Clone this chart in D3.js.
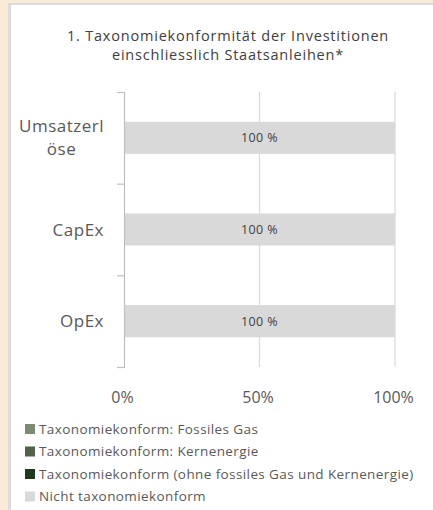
<!DOCTYPE html>
<html>
<head>
<meta charset="utf-8">
<script src="https://cdn.jsdelivr.net/npm/d3@7"></script>
<style>
  html, body { margin: 0; padding: 0; }
  body { background: #faebd7; width: 433px; height: 510px; overflow: hidden; position: relative; }
  #panel { position: absolute; left: 8px; top: 3px; width: 430px; height: 520px;
           background: #fff; border-left: 3px solid #dcdcdc; border-top: 2px solid #dcdcdc; }
  svg { position: absolute; left: 0; top: 0; font-family: "Open Sans", sans-serif; }
</style>
</head>
<body>
<div id="panel"></div>
<svg id="chart" width="433" height="510"></svg>
<script>
const categories = [['Umsatzerl', 'öse'], ['CapEx'], ['OpEx']];
const keys = ['Taxonomiekonform: Fossiles Gas', 'Taxonomiekonform: Kernenergie',
  'Taxonomiekonform (ohne fossiles Gas und Kernenergie)', 'Nicht taxonomiekonform'];
const colors = ['#7b8b6f', '#4f6349', '#1c3a1c', '#d9d9d9'];
// share per category for each key, in %
const fossilGas = [0, 0, 0];
const nuclear = [0, 0, 0];
const aligned = [0, 0, 0];
const notAligned = [100, 100, 100];
const xTicks = [0, 50, 100];
const titleLines = ['1. Taxonomiekonformität der Investitionen', 'einschliesslich Staatsanleihen*'];

const svg = d3.select('#chart');
const plotLeft = 124, plotRight = 395, plotTop = 92, plotBottom = 367;

const x = d3.scaleLinear().domain([0, 100]).range([plotLeft, plotRight]);
const y = d3.scaleBand().domain(d3.range(categories.length)).range([plotTop, plotBottom]).paddingInner(0.65).paddingOuter(0.325);
const yEdge = d3.scaleLinear().domain([0, categories.length]).range([plotTop, plotBottom]);

// title
svg.append('g').selectAll('text')
  .data(titleLines)
  .enter().append('text')
  .attr('x', 228)
  .attr('y', (d, i) => 41 + i * 19)
  .attr('text-anchor', 'middle')
  .attr('font-size', 14.5)
  .attr('letter-spacing', 0.8)
  .attr('fill', '#404040')
  .text(d => d);

// gridlines
svg.append('g')
  .selectAll('line')
  .data(xTicks.slice(1))
  .enter().append('line')
  .attr('x1', d => x(d)).attr('x2', d => x(d))
  .attr('y1', plotTop).attr('y2', plotBottom)
  .attr('stroke', '#d9d9d9').attr('stroke-width', 1.2);

// stacked bars
const rows = categories.map((c, i) => ({ i, values: [fossilGas[i], nuclear[i], aligned[i], notAligned[i]] }));
const stack = d3.stack().keys([0, 1, 2, 3]).value((d, k) => d.values[k]);
const series = stack(rows);

svg.append('g')
  .selectAll('g')
  .data(series)
  .enter().append('g')
  .attr('fill', (d, k) => colors[k])
  .selectAll('rect')
  .data(d => d)
  .enter().append('rect')
  .attr('x', d => x(d[0]))
  .attr('width', d => x(d[1]) - x(d[0]))
  .attr('y', d => y(d.data.i))
  .attr('height', y.bandwidth());

// bar value labels
svg.append('g')
  .selectAll('text')
  .data(rows)
  .enter().append('text')
  .attr('x', d => x(d.values[3] / 2 + (100 - d.values[3])))
  .attr('y', d => y(d.i) + y.bandwidth() / 2 + 4.5)
  .attr('text-anchor', 'middle')
  .attr('font-size', 12.5)
  .attr('letter-spacing', 0.4)
  .attr('fill', '#404040')
  .text(d => d.values[3] + ' %');

// y axis line with boundary ticks
const yAxis = svg.append('g')
  .attr('transform', `translate(${plotLeft},0)`)
  .call(d3.axisLeft(yEdge).ticks(categories.length).tickSize(7).tickSizeOuter(7).tickFormat(''));
yAxis.selectAll('path, line').attr('stroke', '#bfbfbf').attr('stroke-width', 1.2);

// category labels (wrapped, centred within a right-aligned block)
const labels = svg.append('g').attr('font-size', 17).attr('letter-spacing', 0.5).attr('fill', '#595959');
categories.forEach((lines, i) => {
  const g = labels.append('g');
  const cy = y(i) + y.bandwidth() / 2;
  const t = g.selectAll('text').data(lines).enter().append('text')
    .attr('text-anchor', 'middle')
    .attr('y', (d, j) => cy + 6 + (j - (lines.length - 1) / 2) * 23)
    .text(d => d);
  let w = 0;
  t.each(function () { w = Math.max(w, this.getComputedTextLength()); });
  t.attr('x', 104 - w / 2);
});

// x axis labels
svg.append('g')
  .attr('transform', `translate(-2,${plotBottom})`)
  .call(d3.axisBottom(x).tickValues(xTicks).tickSize(0).tickPadding(25).tickFormat(d => d + '%'))
  .call(g => g.select('.domain').remove())
  .call(g => g.selectAll('text').attr('font-size', 16).attr('fill', '#595959').attr('font-family', '"Open Sans", sans-serif'));

// legend
const legend = svg.append('g')
  .selectAll('g')
  .data(keys)
  .enter().append('g')
  .attr('transform', (d, i) => `translate(25,${424 + i * 22.5})`);
legend.append('rect').attr('width', 10).attr('height', 10).attr('fill', (d, i) => colors[i]);
legend.append('text')
  .attr('x', 14).attr('y', 9.5)
  .attr('font-size', 13.5)
  .attr('letter-spacing', 0.4)
  .attr('fill', '#595959')
  .text(d => d);
</script>
</body>
</html>
